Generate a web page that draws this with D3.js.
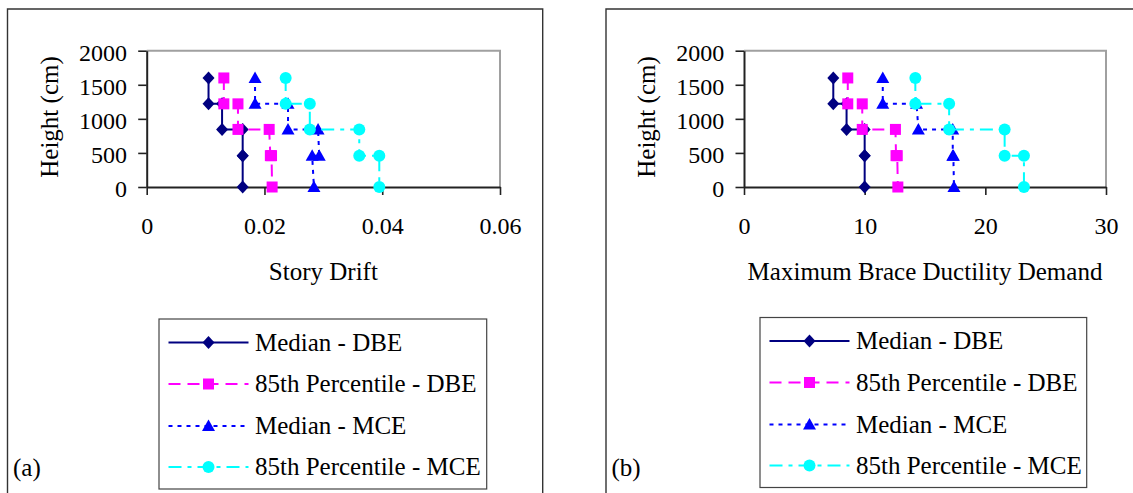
<!DOCTYPE html>
<html>
<head>
<meta charset="utf-8">
<script src="https://cdn.jsdelivr.net/npm/d3@7"></script>
<style>
  html, body { margin: 0; padding: 0; background: #fff; }
  svg { display: block; }
</style>
</head>
<body>
<svg id="chart" width="1133" height="493"></svg>
<script>
// Step profiles: each story is drawn at its bottom and top height
const heights = [1600, 1220, 1220, 845, 845, 460, 460, 0];
const heightTicks = [0, 500, 1000, 1500, 2000];

const seriesNames = ["Median - DBE", "85th Percentile - DBE", "Median - MCE", "85th Percentile - MCE"];

// (a) story drift
const driftTicks = [0, 0.02, 0.04, 0.06];
const driftMedianDBE = [0.0105, 0.0105, 0.0128, 0.0128, 0.0163, 0.0163, 0.0163, 0.0163];
const driftP85DBE    = [0.0131, 0.0131, 0.0155, 0.0155, 0.0208, 0.0210, 0.0212, 0.0213];
const driftMedianMCE = [0.0184, 0.0184, 0.0240, 0.0240, 0.0291, 0.0293, 0.0281, 0.0284];
const driftP85MCE    = [0.0236, 0.0236, 0.0277, 0.0277, 0.0361, 0.0361, 0.0395, 0.0395];

// (b) maximum brace ductility demand
const ductTicks = [0, 10, 20, 30];
const ductMedianDBE = [7.4, 7.4, 8.5, 8.5, 10.0, 10.0, 10.0, 10.0];
const ductP85DBE    = [8.6, 8.6, 9.8, 9.8, 12.55, 12.6, 12.7, 12.75];
const ductMedianMCE = [11.5, 11.5, 14.3, 14.45, 17.3, 17.3, 17.35, 17.4];
const ductP85MCE    = [14.2, 14.2, 17.0, 17.0, 21.6, 21.6, 23.2, 23.2];

const FONT = "Liberation Serif";

const styles = [
  { color: "#000080", dash: null,        marker: "diamond" },
  { color: "#ff00ff", dash: "12,7",      marker: "square" },
  { color: "#0000ff", dash: "4,5",       marker: "triangle" },
  { color: "#00ffff", dash: "13,6,4,6",  marker: "circle" }
];

const svg = d3.select("#chart").style("font-family", FONT);

function label(g, x, y, txt, size) {
  return g.append("text").attr("x", x).attr("y", y)
    .style("font-family", FONT).style("font-size", size + "px").attr("fill", "#000").text(txt);
}

function drawMarker(g, type, cx, cy, color) {
  if (type === "diamond") {
    g.append("path").attr("d", `M${cx},${cy - 6.5}L${cx + 6},${cy}L${cx},${cy + 6.5}L${cx - 6},${cy}Z`).attr("fill", color);
  } else if (type === "square") {
    g.append("rect").attr("x", cx - 5.5).attr("y", cy - 5.5).attr("width", 11).attr("height", 11).attr("fill", color);
  } else if (type === "triangle") {
    g.append("path").attr("d", `M${cx},${cy - 6.5}L${cx + 6.5},${cy + 5}L${cx - 6.5},${cy + 5}Z`).attr("fill", color);
  } else {
    g.append("circle").attr("cx", cx).attr("cy", cy).attr("r", 6).attr("fill", color);
  }
}

function drawPanel(cfg) {
  const g = svg.append("g");

  // outer frame (bottom is cropped off in the original)
  const fr = cfg.frame;
  g.append("path")
    .attr("d", fr.right != null
      ? `M${fr.left},500V${fr.top}H${fr.right}V500`
      : `M${fr.left},500V${fr.top}H1140`)
    .attr("fill", "none").attr("stroke", "#333").attr("stroke-width", 1.4);

  const x = d3.scaleLinear().domain([cfg.ticks[0], cfg.ticks[cfg.ticks.length - 1]]).range([cfg.x0, cfg.x1]);
  const y = d3.scaleLinear().domain([0, 2000]).range([187, 50.7]);

  // plot-area border (top and right, grey)
  g.append("path")
    .attr("d", `M${cfg.x0},${y(2000)}H${cfg.x1}V${y(0)}`)
    .attr("fill", "none").attr("stroke", "#a0a0a0").attr("stroke-width", 2);

  const xAxis = g.append("g").attr("transform", `translate(0,${y(0)})`)
    .call(d3.axisBottom(x).tickValues(cfg.ticks).tickSize(8).tickSizeOuter(0).tickPadding(22)
      .tickFormat(d => String(+d.toFixed(3))));
  const yAxis = g.append("g").attr("transform", `translate(${cfg.x0},0)`)
    .call(d3.axisLeft(y).tickValues(heightTicks).tickSize(8.5).tickSizeOuter(0).tickPadding(11.2)
      .tickFormat(d3.format("d")));
  [xAxis, yAxis].forEach(ax => {
    ax.attr("font-family", null).attr("font-size", null);
    ax.select(".domain").attr("stroke", "#222").attr("stroke-width", 2);
    ax.selectAll(".tick line").attr("stroke", "#222").attr("stroke-width", 1.6);
    ax.selectAll(".tick text").attr("fill", "#000")
      .style("font-family", FONT).style("font-size", "24px");
  });
  yAxis.selectAll(".tick text").attr("dy", "0.4em");

  // axis titles
  label(g, (cfg.x0 + cfg.x1) / 2, 280, cfg.xTitle, 25).attr("text-anchor", "middle");
  label(g, 0, 0, "Height (cm)", 25).attr("text-anchor", "middle")
    .attr("transform", `translate(${cfg.yTitleX},117) rotate(-90)`);

  // series
  const line = d3.line().x(d => x(d[0])).y(d => y(d[1]));
  cfg.series.forEach((vals, i) => {
    const st = styles[i];
    const pts = vals.map((v, j) => [v, heights[j]]);
    const sg = g.append("g");
    sg.append("path").datum(pts).attr("d", line)
      .attr("fill", "none").attr("stroke", st.color).attr("stroke-width", 2)
      .attr("stroke-dasharray", st.dash);
    pts.forEach(p => drawMarker(sg, st.marker, x(p[0]), y(p[1]), st.color));
  });

  // legend
  const L = cfg.legend;
  g.append("rect").attr("x", L.left).attr("y", L.top).attr("width", L.width).attr("height", 170)
    .attr("fill", "#fff").attr("stroke", "#444").attr("stroke-width", 1.2);
  const rows = [23.5, 65, 107, 148];
  seriesNames.forEach((name, i) => {
    const st = styles[i];
    const cy = L.top + rows[i];
    const lx0 = L.left + 9.5;
    g.append("line").attr("x1", lx0).attr("x2", lx0 + 80).attr("y1", cy).attr("y2", cy)
      .attr("stroke", st.color).attr("stroke-width", 2).attr("stroke-dasharray", st.dash);
    drawMarker(g, st.marker, lx0 + 40, cy, st.color);
    label(g, L.left + 96, cy + 8, name, 25);
  });

  // panel label
  label(g, cfg.frame.left + 5.5, 476, cfg.label, 25);
}

drawPanel({
  frame: { left: 7.5, top: 9, right: 542.7 },
  x0: 146.7, x1: 500, ticks: driftTicks,
  xTitle: "Story Drift", yTitleX: 58,
  series: [driftMedianDBE, driftP85DBE, driftMedianMCE, driftP85MCE],
  legend: { left: 159, top: 319, width: 327.7 },
  label: "(a)"
});

drawPanel({
  frame: { left: 606, top: 9, right: null },
  x0: 744, x1: 1106, ticks: ductTicks,
  xTitle: "Maximum Brace Ductility Demand", yTitleX: 655,
  series: [ductMedianDBE, ductP85DBE, ductMedianMCE, ductP85MCE],
  legend: { left: 760, top: 317.5, width: 326.7 },
  label: "(b)"
});
</script>
</body>
</html>
